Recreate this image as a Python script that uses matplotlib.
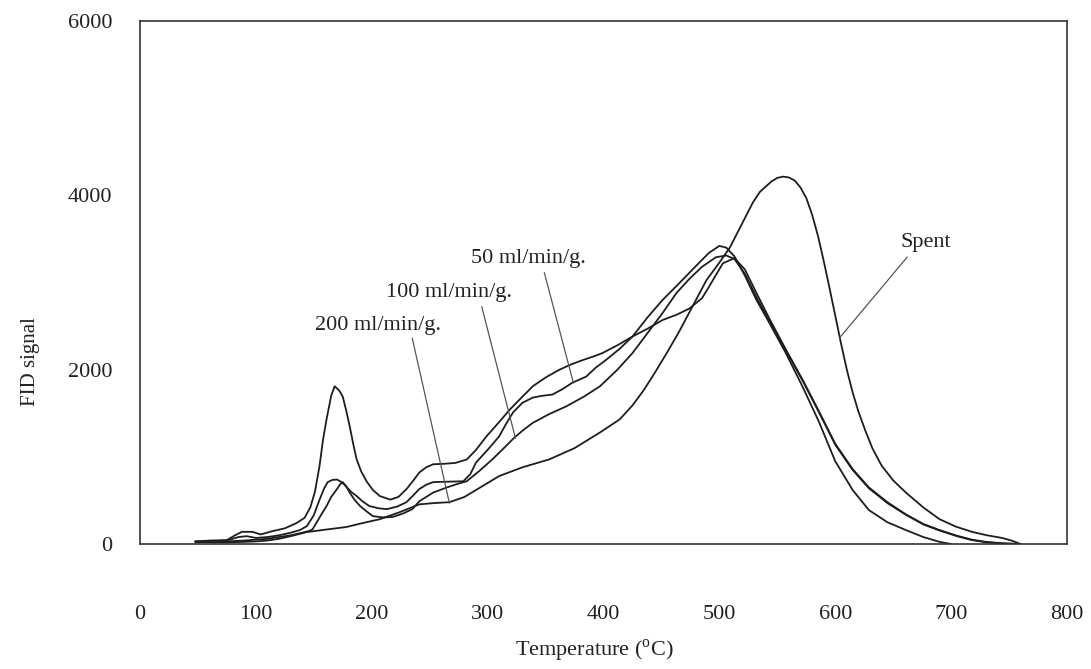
import matplotlib
matplotlib.use("Agg")
import matplotlib.pyplot as plt

plt.rcParams['font.family'] = ['Liberation Serif', 'DejaVu Serif']
plt.rcParams['mathtext.fontset'] = 'custom'
plt.rcParams['mathtext.rm'] = 'Liberation Serif'

# TPO profiles (temperature in C, FID signal)
t_200 = [48, 60, 75, 82, 88, 97, 104, 115, 125, 135, 142, 147, 151, 155, 158, 161, 165, 168, 172,
         175, 178, 181, 184, 187, 191, 196, 201, 207, 216, 223, 230, 236, 241, 247, 253, 262, 272,
         282, 290, 299, 310, 319, 330, 339, 350, 362, 372, 382, 391, 399, 412, 425, 438, 451, 463,
         474, 485, 491, 503, 513, 522, 532, 543, 557, 572, 586, 600, 615, 629, 645, 661, 676, 690,
         705, 718, 730, 745, 758]
s_200 = [30, 40, 45, 100, 140, 140, 110, 150, 180, 240, 300, 420, 600, 900, 1200, 1430, 1700, 1810, 1760,
         1690, 1530, 1350, 1150, 970, 830, 710, 620, 550, 510, 540, 630, 730, 820, 880, 915, 920, 930,
         970, 1080, 1235, 1400, 1540, 1690, 1810, 1910, 2000, 2060, 2110, 2150, 2190, 2280, 2380, 2470, 2570, 2630,
         2700, 2820, 2950, 3220, 3280, 3150, 2880, 2590, 2240, 1880, 1520, 1150, 860, 650, 480, 340, 230, 160,
         95, 50, 25, 8, 0]

t_100 = [48, 60, 75, 90, 100, 110, 120, 130, 140, 146, 149, 153, 157, 161, 165, 170, 173, 175, 178,
         181, 185, 190, 196, 201, 210, 218, 227, 235, 241, 247, 253, 265, 274, 282, 293, 304, 314,
         323, 331, 339, 353, 368, 383, 397, 412, 425, 438, 451, 463, 474, 485, 497, 506, 513, 522,
         532, 543, 557, 572, 586, 600, 615, 629, 645, 661, 676, 690, 705, 718, 730, 745, 760]
s_100 = [20, 25, 30, 40, 50, 60, 80, 100, 130, 150, 170, 260, 350, 435, 540, 630, 690, 710, 660,
         590, 510, 435, 370, 320, 305, 310, 350, 400, 490, 540, 590, 650, 690, 720, 840, 970, 1100,
         1220, 1310, 1390, 1490, 1580, 1690, 1810, 2000, 2190, 2420, 2650, 2880, 3040, 3180, 3290, 3310, 3270, 3100,
         2830, 2560, 2230, 1870, 1510, 1140, 850, 640, 470, 335, 225, 155, 90, 45, 20, 6, 0]

t_50 = [48, 60, 75, 85, 92, 100, 110, 120, 130, 138, 144, 150, 155, 159, 162, 166, 170, 174, 178,
        182, 187, 192, 198, 206, 213, 222, 230, 236, 241, 247, 253, 265, 279, 285, 290, 300, 310,
        316, 322, 330, 339, 347, 356, 365, 373, 385, 393, 402, 414, 425, 438, 451, 463, 474, 485,
        491, 500, 506, 513, 522, 532, 543, 557, 572, 586, 600, 615, 629, 645, 661, 676, 690, 700]
s_50 = [30, 30, 40, 80, 90, 70, 80, 100, 130, 160, 205, 330, 510, 640, 710, 735, 740, 710, 660,
        600, 550, 490, 435, 410, 400, 430, 480, 560, 630, 680, 710, 715, 720, 800, 935, 1080, 1235,
        1380, 1510, 1620, 1680, 1700, 1715, 1780, 1850, 1920, 2020, 2110, 2240, 2380, 2600, 2800, 2960, 3110, 3260,
        3340, 3420, 3400, 3300, 3080, 2800, 2540, 2200, 1800, 1400, 950, 620, 390, 250, 160, 80, 25, 0]

t_spent = [48, 60, 75, 90, 100, 110, 120, 130, 144, 160, 178, 192, 207, 224, 241, 254, 267, 280, 295,
           310, 330, 353, 375, 397, 414, 425, 435, 445, 455, 465, 475, 489, 499, 509, 519, 529, 535,
           540, 545, 550, 555, 560, 565, 570, 575, 580, 585, 590, 595, 600, 605, 610, 615, 620, 626,
           632, 640, 650, 661, 676, 690, 704, 718, 731, 744, 752, 760]
s_spent = [25, 20, 20, 25, 30, 40, 60, 90, 137, 165, 195, 240, 285, 365, 455, 470, 480, 540, 660,
           780, 880, 970, 1100, 1280, 1430, 1590, 1770, 1980, 2200, 2430, 2680, 3030, 3210, 3400, 3660, 3920, 4040,
           4100, 4160, 4200, 4215, 4205, 4170, 4090, 3970, 3780, 3540, 3250, 2940, 2620, 2300, 2000, 1740, 1520, 1300,
           1100, 900, 730, 590, 420, 285, 200, 140, 100, 70, 40, 0]

series = [(t_200, s_200), (t_100, s_100), (t_50, s_50), (t_spent, s_spent)]

# curve labels: text, text position, pointer start, pointer end
labels = ["200 ml/min/g.", "100 ml/min/g.", "50 ml/min/g.", "Spent"]
label_xy = [(205, 2510), (267, 2890), (335, 3280), (678, 3460)]
ptr_from = [(235, 2360), (295, 2720), (349, 3110), (662, 3290)]
ptr_to = [(267, 470), (324, 1215), (374, 1850), (604, 2370)]

fig = plt.figure(figsize=(10.91, 6.69), dpi=100)
ax = fig.add_axes([0.1283, 0.1868, 0.8497, 0.7818])

for t, s in series:
    ax.plot(t, s, color='#1e1e1e', lw=1.3)

for txt, xy, p0, p1 in zip(labels, label_xy, ptr_from, ptr_to):
    ax.text(xy[0], xy[1], txt, fontsize=16, ha='center', va='center', color='#222222')
    ax.plot([p0[0], p1[0]], [p0[1], p1[1]], color='#555555', lw=0.9)

ax.set_xlim(0, 800)
ax.set_ylim(0, 6000)
ax.set_xticks(range(0, 801, 100))
ax.set_yticks([0, 2000, 4000, 6000])
ax.tick_params(axis='x', length=0, pad=44, labelsize=16, colors='#222222')
ax.tick_params(axis='y', length=0, pad=20, labelsize=16, colors='#222222')

for sp in ax.spines.values():
    sp.set_color('#333333')
    sp.set_linewidth(1.2)

ax.set_xlabel('Temperature ($^{\\mathrm{o}}$C)', fontsize=16, color='#222222')
ax.xaxis.set_label_coords(0.49, -0.178)
ax.set_ylabel('FID signal', fontsize=15, color='#222222')
ax.yaxis.set_label_coords(-0.108, 0.348)

fig.savefig('out.png', dpi=100)
